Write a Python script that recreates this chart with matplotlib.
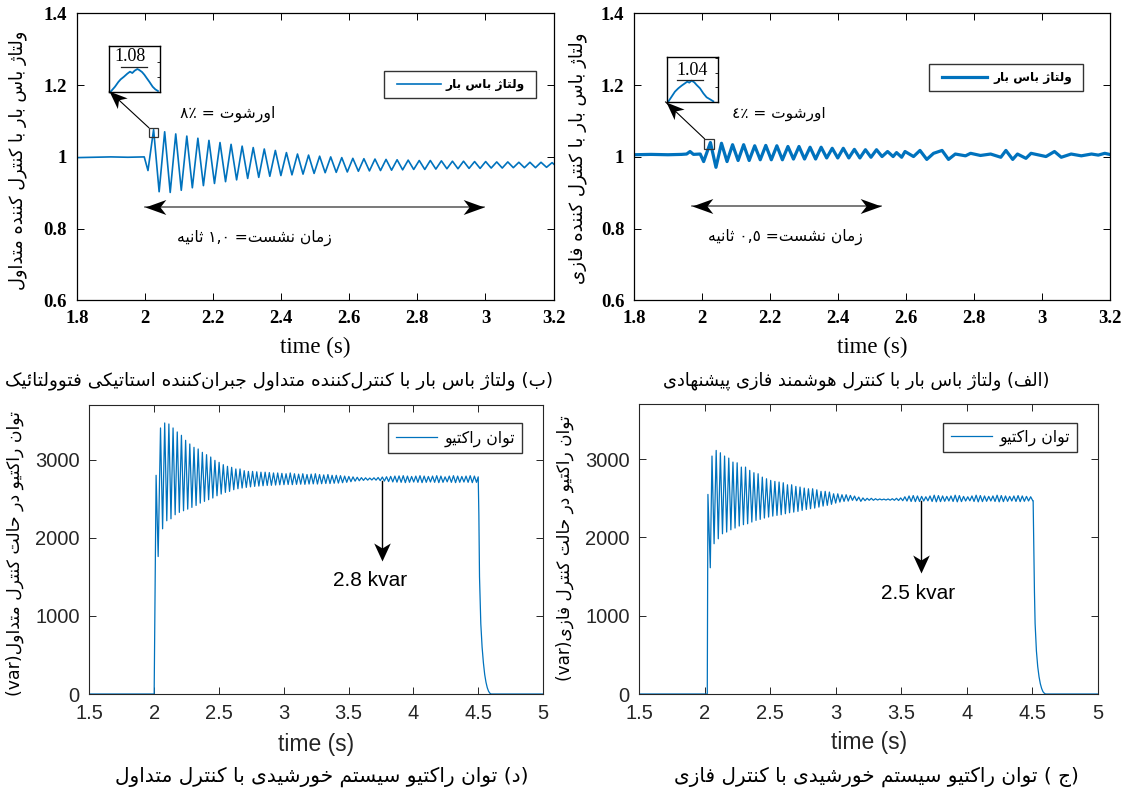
import numpy as np
import matplotlib
matplotlib.use('Agg')
import matplotlib.pyplot as plt
from matplotlib import font_manager, ft2font
from matplotlib.patches import Rectangle
from matplotlib.lines import Line2D
from matplotlib.markers import MarkerStyle
from matplotlib.path import Path
from matplotlib.transforms import Affine2D
from matplotlib.ticker import FuncFormatter
from matplotlib.legend_handler import HandlerLine2D

# ======================= DATA =======================
# --- top-left: bus voltage, conventional controller (pu) ---
tl_pre_t = [1.800, 1.850, 1.900, 1.950, 1.998, 2.009]
tl_pre_v = [0.998, 0.999, 1.000, 0.999, 1.000, 0.962]
tl_t0, tl_period = 2.0255, 0.0325          # first peak time, oscillation period
tl_peaks = [1.076, 1.070, 1.064, 1.058, 1.052, 1.046, 1.040, 1.035, 1.030, 1.026,
            1.022, 1.018, 1.012, 1.008, 1.005, 1.002, 1.000, 0.998, 0.996, 0.995,
            0.994, 0.993, 0.992, 0.991, 0.990, 0.990, 0.989, 0.988, 0.988, 0.987,
            0.987, 0.986, 0.986, 0.985, 0.985, 0.985, 0.984]
tl_troughs = [0.903, 0.901, 0.907, 0.914, 0.920, 0.926, 0.931, 0.936, 0.940, 0.943,
              0.946, 0.948, 0.950, 0.952, 0.954, 0.956, 0.957, 0.958, 0.960, 0.961,
              0.962, 0.963, 0.964, 0.965, 0.965, 0.966, 0.967, 0.967, 0.968, 0.968,
              0.969, 0.969, 0.970, 0.970, 0.970, 0.971, 0.971]
tl_tail_t, tl_tail_v = [], []

# --- top-right: bus voltage, fuzzy controller (pu) ---
tr_pre_t = [1.800, 1.850, 1.900, 1.940, 1.955, 1.965, 1.975, 1.995, 2.005]
tr_pre_v = [1.006, 1.007, 1.006, 1.007, 1.008, 1.015, 1.007, 1.008, 0.987]
tr_t0, tr_period = 2.025, 0.0326
tr_peaks = [1.040, 1.038, 1.034, 1.034, 1.031, 1.032, 1.031, 1.029, 1.029, 1.027,
            1.027, 1.024, 1.024, 1.021, 1.020, 1.020, 1.015]
tr_troughs = [0.971, 0.987, 0.990, 0.990, 0.992, 0.992, 0.992, 0.994, 0.994, 0.994,
              0.997, 0.997, 0.997, 0.997, 0.999, 1.001, 1.001]
tr_tail_t = [2.573, 2.588, 2.598, 2.623, 2.642, 2.662, 2.682, 2.707, 2.726, 2.746,
             2.776, 2.791, 2.820, 2.850, 2.880, 2.895, 2.915, 2.929, 2.954, 2.969,
             3.013, 3.038, 3.058, 3.087, 3.117, 3.147, 3.167, 3.186, 3.200]
tr_tail_v = [1.012, 0.999, 1.015, 1.001, 1.018, 0.993, 1.010, 1.018, 0.993, 1.008,
             1.003, 1.010, 1.004, 1.008, 0.999, 1.018, 0.993, 1.008, 0.996, 1.010,
             1.001, 1.015, 0.999, 1.008, 1.003, 1.008, 1.005, 1.010, 1.007]

# --- bottom-left: reactive power, conventional control (var) ---
bl_pre_t = [1.500, 1.999, 2.014, 2.030]
bl_pre_v = [0, 0, 2800, 1760]
bl_t0, bl_period = 2.048, 0.0323
bl_peaks = [3406, 3470, 3457, 3406, 3355, 3312, 3248, 3201, 3158, 3137, 3094, 3064,
            3034, 2991, 2966, 2936, 2915, 2902, 2881, 2881, 2859,
            2850, 2850, 2845, 2840, 2840, 2835, 2830, 2830, 2825,
            2820, 2830, 2820, 2815, 2820, 2810, 2815, 2820, 2810, 2805, 2810, 2800,
            2800, 2795, 2790,
            2785, 2780, 2775, 2770, 2768, 2765, 2768, 2772, 2778, 2782, 2786,
            2790, 2792, 2795, 2790, 2785, 2790, 2795, 2790, 2785, 2790, 2795, 2790,
            2780, 2790, 2795, 2790, 2785, 2790, 2795, 2790]
bl_troughs = [2115, 2218, 2243, 2295, 2325, 2346, 2367, 2389, 2414, 2444, 2466, 2487,
              2509, 2538, 2560, 2581, 2594, 2615, 2628, 2637, 2645,
              2652, 2658, 2662, 2666, 2670, 2672, 2675, 2678, 2680,
              2682, 2680, 2684, 2686, 2684, 2688, 2690, 2688, 2692, 2695, 2694, 2698,
              2700, 2705, 2710,
              2718, 2725, 2730, 2735, 2738, 2740, 2738, 2732, 2726, 2720, 2715,
              2712, 2710, 2706, 2710, 2714, 2710, 2706, 2710, 2714, 2710, 2706, 2710,
              2716, 2710, 2706, 2710, 2714, 2710, 2706, 2710]
bl_tail_t = [4.500, 4.505, 4.510, 4.520, 4.530, 4.540, 4.550, 4.560, 4.570, 4.580,
             4.590, 4.600, 5.000]
bl_tail_v = [2780, 2300, 1500, 900, 600, 400, 250, 150, 80, 35, 10, 0, 0]

# --- bottom-right: reactive power, fuzzy control (var) ---
br_pre_t = [1.500, 2.018, 2.023, 2.041]
br_pre_v = [0, 0, 2550, 1613]
br_t0, br_period = 2.054, 0.0320
br_peaks = [3040, 3112, 3082, 3040, 3014, 2963, 2954, 2899, 2899, 2857, 2827, 2814,
            2771, 2750, 2729, 2716, 2708, 2699, 2673, 2673, 2652, 2644, 2631, 2622,
            2622, 2609, 2589, 2589, 2580, 2558, 2558, 2546, 2546, 2537, 2529, 2516,
            2505, 2500, 2500, 2495, 2492,
            2490, 2492, 2495, 2500, 2505,
            2520, 2530, 2535, 2530, 2525, 2520, 2530, 2540, 2535, 2530, 2525, 2530,
            2540, 2535, 2525, 2520, 2530, 2540, 2535, 2530, 2525, 2530, 2540, 2535,
            2530, 2525, 2530, 2535, 2530, 2525, 2520]
br_troughs = [1920, 1983, 2047, 2069, 2098, 2120, 2146, 2163, 2175, 2197, 2218, 2231,
              2248, 2261, 2273, 2282, 2290, 2303, 2316, 2324, 2333, 2346, 2358, 2367,
              2375, 2388, 2401, 2410, 2423, 2439, 2452, 2461, 2465, 2474, 2469, 2461,
              2470, 2475, 2475, 2478, 2480, 2478, 2476, 2475, 2472, 2470,
              2465, 2460, 2458, 2460, 2465, 2468, 2460, 2455, 2458, 2462, 2466, 2460,
              2455, 2458, 2465, 2468, 2460, 2455, 2458, 2462, 2466, 2460, 2455, 2458,
              2462, 2466, 2460, 2458, 2462, 2466, 2470]
br_tail_t = [4.505, 4.510, 4.515, 4.520, 4.530, 4.540, 4.550, 4.560, 4.570, 4.580,
             4.590, 4.600, 5.000]
br_tail_v = [2470, 1900, 1300, 900, 550, 350, 220, 130, 70, 30, 10, 0, 0]

# --- zoom insets: normalised shape of the first overshoot peak ---
tl_inset_x = [0.026, 0.112, 0.178, 0.224, 0.289, 0.355, 0.408, 0.454, 0.500, 0.553,
              0.592, 0.645, 0.691, 0.737, 0.789, 0.855, 0.908, 0.960]
tl_inset_y = [0.000, 0.109, 0.212, 0.270, 0.328, 0.394, 0.438, 0.409, 0.460, 0.496,
              0.474, 0.431, 0.372, 0.299, 0.219, 0.109, 0.051, 0.015]
tr_inset_x = [0.020, 0.085, 0.150, 0.216, 0.281, 0.346, 0.392, 0.431, 0.477, 0.529,
              0.575, 0.641, 0.706, 0.771, 0.837, 0.902]
tr_inset_y = [0.015, 0.126, 0.237, 0.311, 0.370, 0.422, 0.459, 0.437, 0.481, 0.444,
              0.385, 0.311, 0.200, 0.111, 0.067, 0.022]

x_ticks_top = [1.8, 2.0, 2.2, 2.4, 2.6, 2.8, 3.0, 3.2]
y_ticks_top = [0.6, 0.8, 1.0, 1.2, 1.4]
x_ticks_bot = [1.5, 2.0, 2.5, 3.0, 3.5, 4.0, 4.5, 5.0]
y_ticks_bot = [0, 1000, 2000, 3000]

# texts (logical order)
ylabel_tl = "ولتاژ باس بار با کنترل کننده متداول"
ylabel_tr = "ولتاژ باس بار با کنترل کننده فازی"
legend_v = "ولتاژ باس بار"
over_tl = "اورشوت = ٨٪"
over_tr = "اورشوت = ٤٪"
settle_tl = "زمان نشست= ١,٠ ثانیه"
settle_tr = "زمان نشست= ٠,٥ ثانیه"
cap_tl = "(ب) ولتاژ باس بار با کنترل\u200cکننده متداول جبران\u200cکننده استاتیکی فتوولتائیک"
cap_tr = "(الف) ولتاژ باس بار با کنترل هوشمند فازی پیشنهادی"
ylabel_bl = "توان راکتیو در حالت کنترل متداول(var)"
ylabel_br = "توان راکتیو در حالت کنترل فازی(var)"
legend_q = "توان راکتیو"
cap_bl = "(د) توان راکتیو سیستم خورشیدی با کنترل متداول"
cap_br = "(ج ) توان راکتیو سیستم خورشیدی با کنترل فازی"
inset_tl_txt = "1.08"
inset_tr_txt = "1.04"
kvar_bl = "2.8 kvar"
kvar_br = "2.5 kvar"

# ======================= Persian shaping (no external libs) =======================
FORMS = {
    '\u0627': ('\uFE8D', '\uFE8E', None, None),
    '\u0622': ('\uFE81', '\uFE82', None, None),
    '\u0628': ('\uFE8F', '\uFE90', '\uFE91', '\uFE92'),
    '\u067E': ('\uFB56', '\uFB57', '\uFB58', '\uFB59'),
    '\u062A': ('\uFE95', '\uFE96', '\uFE97', '\uFE98'),
    '\u062B': ('\uFE99', '\uFE9A', '\uFE9B', '\uFE9C'),
    '\u062C': ('\uFE9D', '\uFE9E', '\uFE9F', '\uFEA0'),
    '\u0686': ('\uFB7A', '\uFB7B', '\uFB7C', '\uFB7D'),
    '\u062D': ('\uFEA1', '\uFEA2', '\uFEA3', '\uFEA4'),
    '\u062E': ('\uFEA5', '\uFEA6', '\uFEA7', '\uFEA8'),
    '\u062F': ('\uFEA9', '\uFEAA', None, None),
    '\u0630': ('\uFEAB', '\uFEAC', None, None),
    '\u0631': ('\uFEAD', '\uFEAE', None, None),
    '\u0632': ('\uFEAF', '\uFEB0', None, None),
    '\u0698': ('\uFB8A', '\uFB8B', None, None),
    '\u0633': ('\uFEB1', '\uFEB2', '\uFEB3', '\uFEB4'),
    '\u0634': ('\uFEB5', '\uFEB6', '\uFEB7', '\uFEB8'),
    '\u0635': ('\uFEB9', '\uFEBA', '\uFEBB', '\uFEBC'),
    '\u0636': ('\uFEBD', '\uFEBE', '\uFEBF', '\uFEC0'),
    '\u0637': ('\uFEC1', '\uFEC2', '\uFEC3', '\uFEC4'),
    '\u0638': ('\uFEC5', '\uFEC6', '\uFEC7', '\uFEC8'),
    '\u0639': ('\uFEC9', '\uFECA', '\uFECB', '\uFECC'),
    '\u063A': ('\uFECD', '\uFECE', '\uFECF', '\uFED0'),
    '\u0641': ('\uFED1', '\uFED2', '\uFED3', '\uFED4'),
    '\u0642': ('\uFED5', '\uFED6', '\uFED7', '\uFED8'),
    '\u06A9': ('\uFB8E', '\uFB8F', '\uFB90', '\uFB91'),
    '\u06AF': ('\uFB92', '\uFB93', '\uFB94', '\uFB95'),
    '\u0644': ('\uFEDD', '\uFEDE', '\uFEDF', '\uFEE0'),
    '\u0645': ('\uFEE1', '\uFEE2', '\uFEE3', '\uFEE4'),
    '\u0646': ('\uFEE5', '\uFEE6', '\uFEE7', '\uFEE8'),
    '\u0648': ('\uFEED', '\uFEEE', None, None),
    '\u0647': ('\uFEE9', '\uFEEA', '\uFEEB', '\uFEEC'),
    '\u06CC': ('\uFBFC', '\uFBFD', '\uFBFE', '\uFBFF'),
    '\u0626': ('\uFE89', '\uFE8A', '\uFE8B', '\uFE8C'),
}
_FALLBACK = {
    '\u06CC': ('\uFEEF', '\uFEF0', '\uFEF3', '\uFEF4'),
    '\u06A9': ('\uFED9', '\uFEDA', '\uFEDB', '\uFEDC'),
    '\u06AF': ('\uFED9', '\uFEDA', '\uFEDB', '\uFEDC'),
    '\u067E': ('\uFE8F', '\uFE90', '\uFE91', '\uFE92'),
    '\u0686': ('\uFE9D', '\uFE9E', '\uFE9F', '\uFEA0'),
    '\u0698': ('\u0698', '\u0698', None, None),
}
try:
    _cmap = ft2font.FT2Font(font_manager.findfont(
        font_manager.FontProperties(family='DejaVu Sans'))).get_charmap()
    for k, forms in list(FORMS.items()):
        if any(f is not None and ord(f) not in _cmap for f in forms) and k in _FALLBACK:
            FORMS[k] = _FALLBACK[k]
except Exception:
    pass

_LTR = set('0123456789٠١٢٣٤٥٦٧٨٩.,٪%abcdefghijklmnopqrstuvwxyzABCDEFGHIJKLMNOPQRSTUVWXYZ')
_MIRROR = {'(': ')', ')': '('}


def _dual(c):
    return c in FORMS and FORMS[c][2] is not None


def fa(s):
    out = []
    n = len(s)
    i = 0
    while i < n:
        c = s[i]
        if c in FORMS:
            prev = s[i - 1] if i > 0 else ''
            jp = _dual(prev)
            if c == '\u0644' and i + 1 < n and s[i + 1] == '\u0627':
                out.append('\uFEFC' if jp else '\uFEFB')
                i += 2
                continue
            nxt = s[i + 1] if i + 1 < n else ''
            jn = _dual(c) and (nxt in FORMS)
            iso, fin, ini, med = FORMS[c]
            out.append(med if (jp and jn) else fin if jp else ini if jn else iso)
        elif c != '\u200c':
            out.append(c)
        i += 1
    tokens, buf = [], ''
    for ch in out:
        if ch in _LTR:
            buf += ch
        else:
            if buf:
                tokens.append(buf)
                buf = ''
            tokens.append(_MIRROR.get(ch, ch))
    if buf:
        tokens.append(buf)
    return ''.join(reversed(tokens))


# ======================= FIGURE =======================
W, H = 1126, 793
fig = plt.figure(figsize=(W / 100, H / 100), dpi=100)
renderer = fig.canvas.get_renderer()
BLUE = '#0072BD'
FA = 'DejaVu Sans'


def px_axes(x0, y0, x1, y1):
    return fig.add_axes([x0 / W, 1 - y1 / H, (x1 - x0) / W, (y1 - y0) / H])


def fx(x):
    return x / W


def fy(y):
    return 1 - y / H


def fit_size(s, target, weight='normal'):
    t = fig.text(0, 0, s, fontsize=10, family=FA, weight=weight)
    bb = t.get_window_extent(renderer=renderer)
    t.remove()
    return 10 * target / bb.width


def fit_text(x, y, s, target, weight='normal', rotation=0, **kw):
    fs = fit_size(s, target, weight)
    return fig.text(fx(x), fy(y), s, fontsize=fs, family=FA, weight=weight,
                    rotation=rotation, ha='center', va='center', **kw)


def series(pre_t, pre_v, t0, period, peaks, troughs, tail_t, tail_v):
    t, v = list(pre_t), list(pre_v)
    for k, (p, q) in enumerate(zip(peaks, troughs)):
        t += [t0 + k * period, t0 + (k + 0.5) * period]
        v += [p, q]
    return np.array(t + list(tail_t)), np.array(v + list(tail_v))


gfmt = FuncFormatter(lambda v, p: f'{v:g}')


def style(ax, serif):
    col = 'black' if serif else '#262626'
    for s in ax.spines.values():
        s.set_linewidth(0.9 if serif else 0.8)
        s.set_color(col)
    ax.tick_params(direction='in', top=True, right=True, length=5, width=0.7,
                   colors=col, pad=7)
    ax.xaxis.set_major_formatter(gfmt)
    ax.yaxis.set_major_formatter(gfmt)
    for lab in ax.get_xticklabels() + ax.get_yticklabels():
        if serif:
            lab.set_family('Liberation Serif')
            lab.set_fontweight('bold')
            lab.set_fontsize(13.5)
        else:
            lab.set_family('Liberation Sans')
            lab.set_fontsize(14.5)
            lab.set_color('#262626')


def stealth(ax, tip, tail, length_pt, half_w=0.38, color='black'):
    """Concave arrow head with its tip at `tip`, pointing away from `tail`."""
    p1 = ax.transData.transform(tip)
    p0 = ax.transData.transform(tail)
    ang = np.degrees(np.arctan2(p1[1] - p0[1], p1[0] - p0[0]))
    verts = [(0, 0), (-1, half_w), (-0.72, 0), (-1, -half_w), (0, 0)]
    codes = [Path.MOVETO, Path.LINETO, Path.LINETO, Path.LINETO, Path.CLOSEPOLY]
    m = MarkerStyle(Path(verts, codes), transform=Affine2D().rotate_deg(ang))
    ax.plot([tip[0]], [tip[1]], marker=m, ms=2 * length_pt, color=color,
            mec=color, mew=0, clip_on=False, zorder=6)


class PadHandler(HandlerLine2D):
    """Legend line that starts a little to the right of the handle box."""

    def __init__(self, skip, **kw):
        super().__init__(**kw)
        self.skip = skip

    def get_xdata(self, legend, xdescent, ydescent, width, height, fontsize):
        xd, xm = super().get_xdata(legend, xdescent, ydescent, width, height, fontsize)
        x0 = xd[0] + self.skip * (xd[-1] - xd[0])
        return np.array([x0, xd[-1]]), xm


def legend(ax, label, lw, bold, text_w, anchor, left_pad, line_len, gap, bp, trail):
    weight = 'bold' if bold else 'normal'
    fs = fit_size(label, text_w, weight)
    fs_px = fs * 100 / 72
    off = max(left_pad - bp * fs_px, 0)
    h = Line2D([], [], color=BLUE, lw=lw)
    lg = ax.legend([h], [label + trail], loc='upper right', bbox_to_anchor=anchor,
                   borderaxespad=0, fancybox=False, framealpha=1,
                   edgecolor='#333333',
                   prop=dict(family=FA, size=fs, weight=weight),
                   handlelength=(off + line_len) / fs_px,
                   handletextpad=gap / fs_px, borderpad=bp,
                   handler_map={h: PadHandler(off / (off + line_len))})
    lg.get_frame().set_linewidth(1.0)
    return lg


# ---------------- top panels ----------------
top_specs = [
    dict(box=(76.8, 13.3, 553.6, 300.5), pre_t=tl_pre_t, pre_v=tl_pre_v, t0=tl_t0,
         per=tl_period, pk=tl_peaks, tr=tl_troughs, tt=tl_tail_t, tv=tl_tail_v,
         lw=1.2, inset=(109.3, 46.0, 160.0, 91.7), ix=tl_inset_x, iy=tl_inset_y,
         itxt=inset_tl_txt, itxt_pos=(0.41, 0.76), iline=(0.224, 0.737, 0.533),
         sq=(2.0245, 1.069, 0.0264, 0.025), corner=(1.8955, 1.183),
         over=over_tl, over_pos=(2.243, 1.121), over_w=95,
         settle=settle_tl, settle_pos=(2.32, 0.775), settle_w=155,
         sarrow=(1.999, 2.995, 0.860), leg_anchor=(0.963, 0.799), leg_w=80,
         leg_geom=(13, 44, 5),
         ylab=ylabel_tl, ylab_pos=(18, 160), ylab_len=260,
         xlab_pos=(315, 347), cap=cap_tl, cap_pos=(279, 381), cap_w=548),
    dict(box=(634.0, 13.3, 1109.5, 300.5), pre_t=tr_pre_t, pre_v=tr_pre_v, t0=tr_t0,
         per=tr_period, pk=tr_peaks, tr=tr_troughs, tt=tr_tail_t, tv=tr_tail_v,
         lw=2.3, inset=(667.3, 57.3, 718.3, 102.3), ix=tr_inset_x, iy=tr_inset_y,
         itxt=inset_tr_txt, itxt_pos=(0.48, 0.70), iline=(0.183, 0.706, 0.496),
         sq=(2.022, 1.037, 0.0297, 0.028), corner=(1.8930, 1.153),
         over=over_tr, over_pos=(2.228, 1.122), over_w=94,
         settle=settle_tr, settle_pos=(2.247, 0.778), settle_w=155,
         sarrow=(1.970, 2.528, 0.863), leg_anchor=(0.944, 0.823), leg_w=79,
         leg_geom=(13, 45, 6),
         ylab=ylabel_tr, ylab_pos=(578, 158), ylab_len=252,
         xlab_pos=(872, 347), cap=cap_tr, cap_pos=(856, 381), cap_w=388),
]

for sp in top_specs:
    ax = px_axes(*sp['box'])
    t, v = series(sp['pre_t'], sp['pre_v'], sp['t0'], sp['per'], sp['pk'], sp['tr'],
                  sp['tt'], sp['tv'])
    ax.plot(t, v, color=BLUE, lw=sp['lw'])
    ax.set_xlim(1.8, 3.2)
    ax.set_ylim(0.6, 1.4)
    ax.set_xticks(x_ticks_top)
    ax.set_yticks(y_ticks_top)
    style(ax, True)
    lp, ll, gp = sp['leg_geom']
    legend(ax, fa(legend_v), sp['lw'], True, sp['leg_w'], sp['leg_anchor'],
           lp, ll, gp, 0.56, ' ')

    # small square marking the overshoot peak
    cx, cy, w, h = sp['sq']
    ax.add_patch(Rectangle((cx - w / 2, cy - h / 2), w, h, fill=False, ec='#333333',
                           lw=0.9, zorder=5))
    tail = (cx - w / 2, cy + h / 2)
    ax.plot([tail[0], sp['corner'][0]], [tail[1], sp['corner'][1]], color='black',
            lw=0.8, zorder=5)
    stealth(ax, sp['corner'], tail, 13, 0.4)

    # settling-time double arrow
    x0, x1, ya = sp['sarrow']
    ax.plot([x0, x1], [ya, ya], color='#555555', lw=1.1)
    stealth(ax, (x0, ya), (x1, ya), 15, 0.36)
    stealth(ax, (x1, ya), (x0, ya), 15, 0.36)

    # annotations
    for s, pos, wt in ((sp['over'], sp['over_pos'], sp['over_w']),
                       (sp['settle'], sp['settle_pos'], sp['settle_w'])):
        fs = fit_size(fa(s), wt)
        ax.text(pos[0], pos[1], fa(s), fontsize=fs, family=FA, ha='center',
                va='center')

    # inset with zoomed peak
    ia = px_axes(*sp['inset'])
    ia.plot(sp['ix'], sp['iy'], color=BLUE, lw=1.3)
    ia.set_xlim(0, 1)
    ia.set_ylim(0, 1)
    ia.set_xticks([])
    ia.set_yticks([0.33, 0.66, 0.99])
    ia.tick_params(direction='in', left=False, right=True, labelleft=False,
                   length=2.5, width=0.6)
    for s in ia.spines.values():
        s.set_linewidth(1.0)
    x0i, x1i, yl = sp['iline']
    ia.plot([x0i, x1i], [yl, yl], color='#222222', lw=0.9)
    ia.text(sp['itxt_pos'][0], sp['itxt_pos'][1], sp['itxt'], transform=ia.transAxes,
            family='Liberation Serif', fontsize=13, ha='center', va='center')

    fit_text(sp['ylab_pos'][0], sp['ylab_pos'][1], fa(sp['ylab']), sp['ylab_len'],
             rotation=90)
    fig.text(fx(sp['xlab_pos'][0]), fy(sp['xlab_pos'][1]), 'time (s)',
             family='Liberation Serif', fontsize=16.5, ha='center', va='center')
    fit_text(sp['cap_pos'][0], sp['cap_pos'][1], fa(sp['cap']), sp['cap_w'])

# ---------------- bottom panels ----------------
bot_specs = [
    dict(box=(89.5, 405.0, 543.0, 694.0), pre_t=bl_pre_t, pre_v=bl_pre_v, t0=bl_t0,
         per=bl_period, pk=bl_peaks, tr=bl_troughs, tt=bl_tail_t, tv=bl_tail_v,
         arrow=(3.755, 2722, 1705), kv=kvar_bl, kv_pos=(3.665, 1457),
         leg_anchor=(0.954, 0.936), ylab=ylabel_bl, ylab_pos=(15, 553), ylab_len=285,
         xlab_pos=(316, 744), cap=cap_bl, cap_pos=(322, 777), cap_w=412),
    dict(box=(639.4, 404.4, 1098.0, 694.0), pre_t=br_pre_t, pre_v=br_pre_v, t0=br_t0,
         per=br_period, pk=br_peaks, tr=br_troughs, tt=br_tail_t, tv=br_tail_v,
         arrow=(3.650, 2463, 1547), kv=kvar_br, kv_pos=(3.624, 1290),
         leg_anchor=(0.954, 0.9375), ylab=ylabel_br, ylab_pos=(565, 548), ylab_len=266,
         xlab_pos=(869, 742), cap=cap_br, cap_pos=(876, 777), cap_w=404),
]

for sp in bot_specs:
    ax = px_axes(*sp['box'])
    t, v = series(sp['pre_t'], sp['pre_v'], sp['t0'], sp['per'], sp['pk'], sp['tr'],
                  sp['tt'], sp['tv'])
    ax.plot(t, v, color=BLUE, lw=0.9)
    ax.set_xlim(1.5, 5.0)
    ax.set_ylim(0, 3700)
    ax.set_xticks(x_ticks_bot)
    ax.set_yticks(y_ticks_bot)
    style(ax, False)
    legend(ax, fa(legend_q), 0.9, False, 71, sp['leg_anchor'], 8, 41, 8, 0.42, '')

    xa, y0a, y1a = sp['arrow']
    ax.plot([xa, xa], [y0a, y1a + 150], color='black', lw=1.0)
    stealth(ax, (xa, y1a), (xa, y0a), 13, 0.46)
    ax.text(sp['kv_pos'][0], sp['kv_pos'][1], sp['kv'], family='Liberation Sans',
            fontsize=15, ha='center', va='center')

    fit_text(sp['ylab_pos'][0], sp['ylab_pos'][1], fa(sp['ylab']), sp['ylab_len'],
             rotation=90)
    fig.text(fx(sp['xlab_pos'][0]), fy(sp['xlab_pos'][1]), 'time (s)',
             family='Liberation Sans', fontsize=16.5, ha='center', va='center',
             color='#262626')
    fit_text(sp['cap_pos'][0], sp['cap_pos'][1], fa(sp['cap']), sp['cap_w'])

fig.savefig('out.png', dpi=100)
